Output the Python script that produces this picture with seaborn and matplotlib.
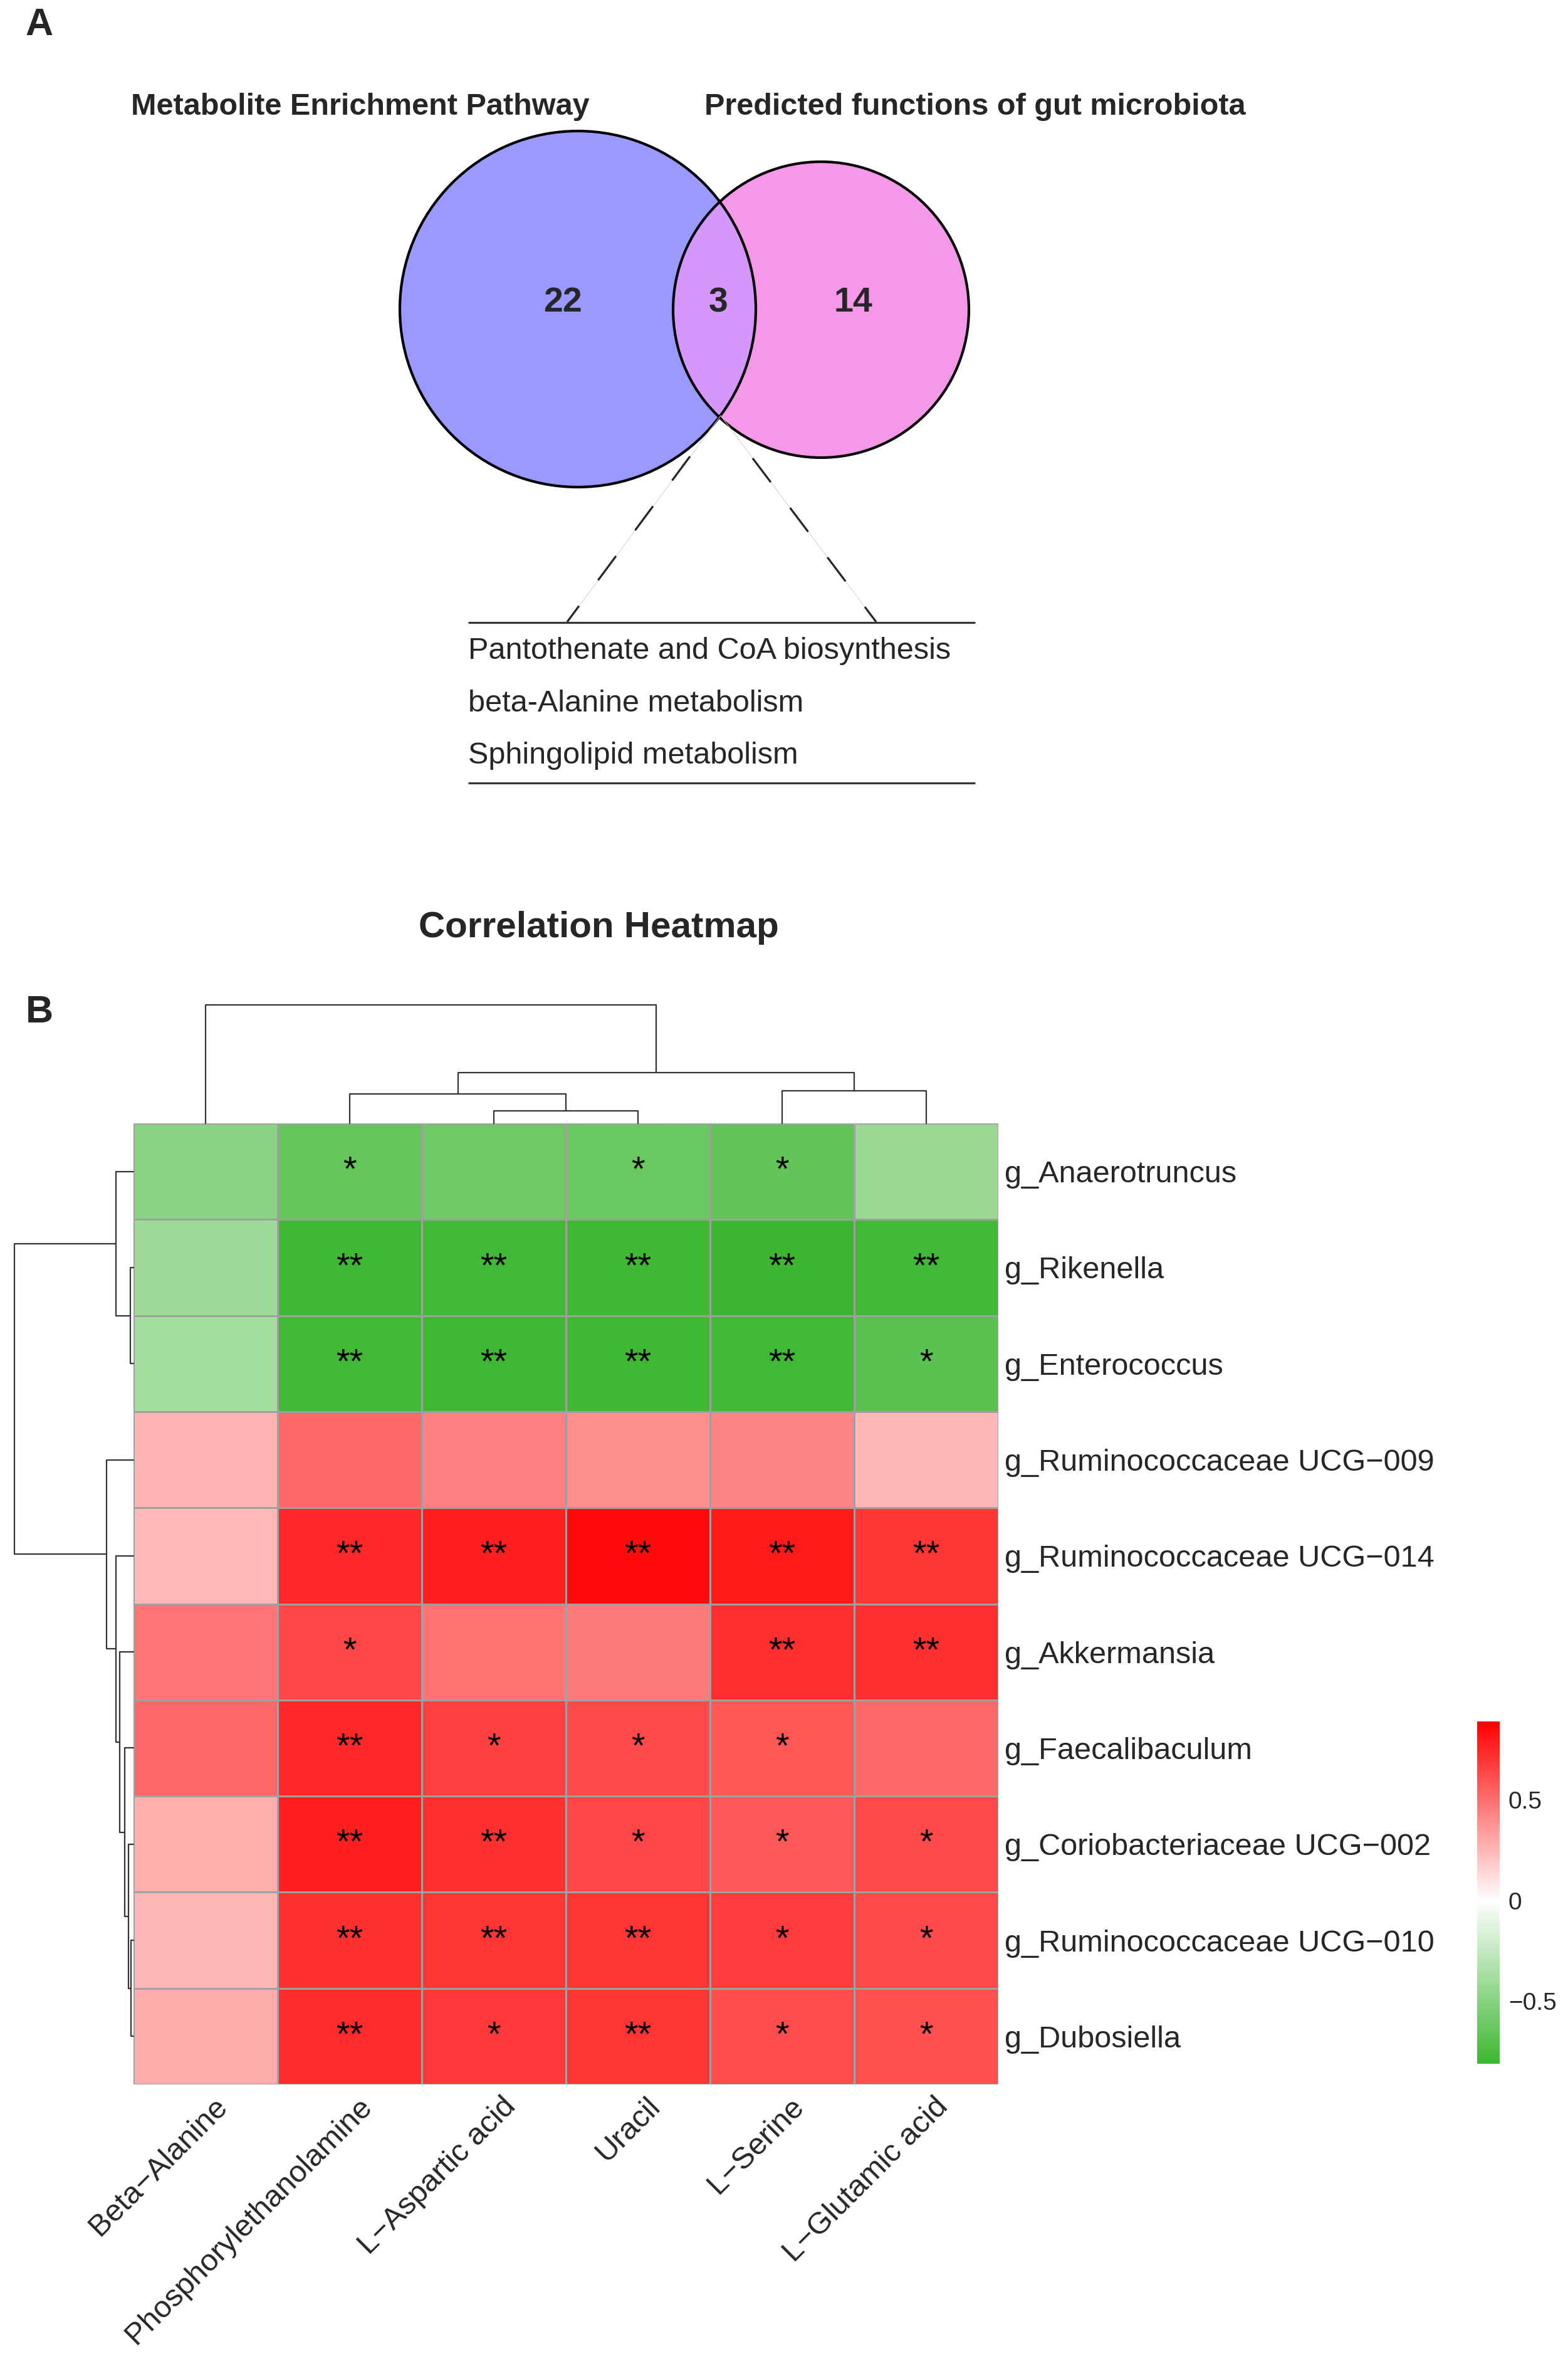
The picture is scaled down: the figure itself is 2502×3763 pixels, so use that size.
import numpy as np
import pandas as pd
import matplotlib
matplotlib.use("Agg")
import matplotlib.pyplot as plt
import matplotlib.transforms as mtransforms
import seaborn as sns
from matplotlib.colors import LinearSegmentedColormap
from matplotlib.patches import Circle

sns.set_style("white")
plt.rcParams['font.family'] = ['Liberation Sans', 'DejaVu Sans']

# ---------------- Panel A data ----------------
set_names = ["Metabolite Enrichment Pathway", "Predicted functions of gut microbiota"]
venn_counts = [22, 3, 14]          # only left, shared, only right
shared_pathways = ["Pantothenate and CoA biosynthesis",
                   "beta-Alanine metabolism",
                   "Sphingolipid metabolism"]

# ---------------- Panel B data ----------------
metabolites = ["Beta\u2212Alanine", "Phosphorylethanolamine", "L\u2212Aspartic acid",
               "Uracil", "L\u2212Serine", "L\u2212Glutamic acid"]
genera = ["g_Anaerotruncus", "g_Rikenella", "g_Enterococcus",
          "g_Ruminococcaceae UCG\u2212009", "g_Ruminococcaceae UCG\u2212014",
          "g_Akkermansia", "g_Faecalibaculum", "g_Coriobacteriaceae UCG\u2212002",
          "g_Ruminococcaceae UCG\u2212010", "g_Dubosiella"]
corr_values = [
    [-0.49, -0.65, -0.60, -0.62, -0.66, -0.42],
    [-0.40, -0.80, -0.79, -0.80, -0.81, -0.79],
    [-0.38, -0.79, -0.80, -0.80, -0.79, -0.69],
    [ 0.26,  0.52,  0.44,  0.39,  0.43,  0.25],
    [ 0.24,  0.75,  0.78,  0.85,  0.80,  0.70],
    [ 0.48,  0.64,  0.49,  0.46,  0.73,  0.72],
    [ 0.52,  0.75,  0.66,  0.63,  0.59,  0.52],
    [ 0.28,  0.78,  0.72,  0.65,  0.58,  0.63],
    [ 0.25,  0.72,  0.70,  0.70,  0.68,  0.63],
    [ 0.29,  0.74,  0.69,  0.70,  0.62,  0.61],
]
significance = [
    ["", "*",  "",   "*",  "*",  ""],
    ["", "**", "**", "**", "**", "**"],
    ["", "**", "**", "**", "**", "*"],
    ["", "",   "",   "",   "",   ""],
    ["", "**", "**", "**", "**", "**"],
    ["", "*",  "",   "",   "**", "**"],
    ["", "**", "*",  "*",  "*",  ""],
    ["", "**", "**", "*",  "*",  "*"],
    ["", "**", "**", "**", "*",  "*"],
    ["", "**", "*",  "**", "*",  "*"],
]
# hierarchical clustering (leaf indices in display order, merged nodes numbered n, n+1, ...)
col_merges = [(2, 3), (1, 6), (4, 5), (7, 8), (0, 9)]
col_heights = [0.212, 0.497, 0.550, 0.857, 2.0]
row_merges = [(1, 2), (0, 10), (8, 9), (7, 12), (6, 13), (5, 14), (4, 15), (3, 16), (11, 17)]
row_heights = [0.053, 0.295, 0.042, 0.084, 0.147, 0.232, 0.295, 0.453, 2.0]
corr_min, corr_max = -0.81, 0.89
cbar_ticks = [-0.5, 0, 0.5]
cbar_ticklabels = ["\u22120.5", "0", "0.5"]

# ---------------- Figure ----------------
W, H = 2502, 3763
fig = plt.figure(figsize=(W / 100, H / 100), dpi=100)


def rect(x0, y0, x1, y1):
    return [x0 / W, 1 - y1 / H, (x1 - x0) / W, (y1 - y0) / H]


# overlay axes in pixel coordinates for panel A and labels
ax0 = fig.add_axes([0, 0, 1, 1])
ax0.set_xlim(0, W)
ax0.set_ylim(H, 0)
ax0.set_axis_off()

c_left = ((922, 493), 284)
c_right = ((1310, 494), 236)
p_left = Circle(*c_left, facecolor="#9999FF", edgecolor="none")
p_right = Circle(*c_right, facecolor="#F598E8", edgecolor="none")
p_lens = Circle(*c_left, facecolor="#D596FE", edgecolor="none")
ax0.add_patch(p_left)
ax0.add_patch(p_right)
ax0.add_patch(p_lens)
p_lens.set_clip_path(p_right)
for c in (c_left, c_right):
    ax0.add_patch(Circle(*c, fill=False, edgecolor="black", lw=3))

ax0.text(575, 170, set_names[0], ha="center", va="center", fontsize=35, fontweight="bold")
ax0.text(1556, 170, set_names[1], ha="center", va="center", fontsize=35, fontweight="bold")
for xpos, cnt in zip([898, 1146, 1361], venn_counts):
    ax0.text(xpos, 483, str(cnt), ha="center", va="center", fontsize=40, fontweight="bold")

# connectors from the lower intersection of the circles to the pathway list
apex = (1150, 663)
for end, start in (((905, 992), (1101, 728)), ((1398, 992), (1201, 731))):
    ax0.plot([apex[0], end[0]], [apex[1], end[1]], color="#d0d0d0", lw=0.7)
    ax0.plot([start[0], end[0]], [start[1], end[1]], color="#2a2323", lw=2.3,
             ls=(0, (15, 16)), solid_capstyle="butt", dash_capstyle="butt")
ax0.plot([747, 1556], [993, 993], color="#3b3434", lw=2.3, solid_capstyle="butt")
ax0.plot([747, 1556], [1249, 1249], color="#3b3434", lw=2.3, solid_capstyle="butt")
for ypos, txt in zip([1038, 1122, 1205], shared_pathways):
    ax0.text(747, ypos, txt, ha="left", va="center", fontsize=35)

ax0.text(63, 40, "A", ha="center", va="center", fontsize=44, fontweight="bold")
ax0.text(63, 1615, "B", ha="center", va="center", fontsize=44, fontweight="bold")
ax0.text(955, 1480, "Correlation Heatmap", ha="center", va="center", fontsize=42, fontweight="bold")

# ---------------- Heatmap ----------------
ax_hm = fig.add_axes(rect(213, 1792, 1593, 3325))
ax_cb = fig.add_axes(rect(2357, 2746, 2393, 3292))

df = pd.DataFrame(corr_values, index=genera, columns=metabolites)
white_pos = -corr_min / (corr_max - corr_min)
cmap = LinearSegmentedColormap.from_list(
    "gwr", [(0.0, "#3DB731"), (white_pos, "#FFFFFF"), (1.0, "#FF0000")])

sns.heatmap(df, ax=ax_hm, cmap=cmap, vmin=corr_min, vmax=corr_max,
            annot=np.array(significance, dtype=object), fmt="",
            annot_kws=dict(fontsize=40, color="black"),
            linewidths=1.8, linecolor="#A0A0A0",
            cbar_ax=ax_cb, cbar_kws=dict(ticks=cbar_ticks))

ax_hm.set_xlabel("")
ax_hm.set_ylabel("")
ax_hm.yaxis.tick_right()
ax_hm.set_yticks(np.arange(len(genera)) + 0.5)
ax_hm.set_yticklabels(genera, rotation=0, fontsize=35, ha="left")
ax_hm.tick_params(axis="y", length=0, pad=7)
ax_hm.set_xticks(np.arange(len(metabolites)) + 0.5)
ax_hm.set_xticklabels(metabolites, rotation=45, ha="right", va="top",
                      rotation_mode="anchor", fontsize=35)
ax_hm.tick_params(axis="x", length=0, pad=9)
shift = mtransforms.ScaledTranslation(0.12, 0, fig.dpi_scale_trans)
for lbl in ax_hm.get_xticklabels():
    lbl.set_transform(lbl.get_transform() + shift)

cb = ax_hm.collections[0].colorbar
cb.outline.set_visible(False)
cb.set_ticks(cbar_ticks, labels=cbar_ticklabels)
cb.ax.tick_params(length=0, pad=10, labelsize=28)


# ---------------- Dendrograms ----------------
def dendro_segments(merges, heights, n):
    pos = {i: i + 0.5 for i in range(n)}
    hgt = {i: 0.0 for i in range(n)}
    segs = []
    for k, ((a, b), h) in enumerate(zip(merges, heights)):
        segs.append(([pos[a], pos[a], pos[b], pos[b]], [hgt[a], h, h, hgt[b]]))
        pos[n + k] = (pos[a] + pos[b]) / 2
        hgt[n + k] = h
    return segs


ax_cd = fig.add_axes(rect(213, 1603, 1593, 1792))
for xs, ys in dendro_segments(col_merges, col_heights, len(metabolites)):
    ax_cd.plot(xs, ys, color="#333333", lw=1.6, clip_on=False)
ax_cd.set_xlim(0, len(metabolites))
ax_cd.set_ylim(0, max(col_heights))
ax_cd.set_axis_off()

ax_rd = fig.add_axes(rect(23, 1792, 213, 3325))
for ys, xs in dendro_segments(row_merges, row_heights, len(genera)):
    ax_rd.plot(xs, ys, color="#333333", lw=1.6, clip_on=False)
ax_rd.set_xlim(max(row_heights), 0)
ax_rd.set_ylim(len(genera), 0)
ax_rd.set_axis_off()

fig.savefig("out.png", dpi=100)
